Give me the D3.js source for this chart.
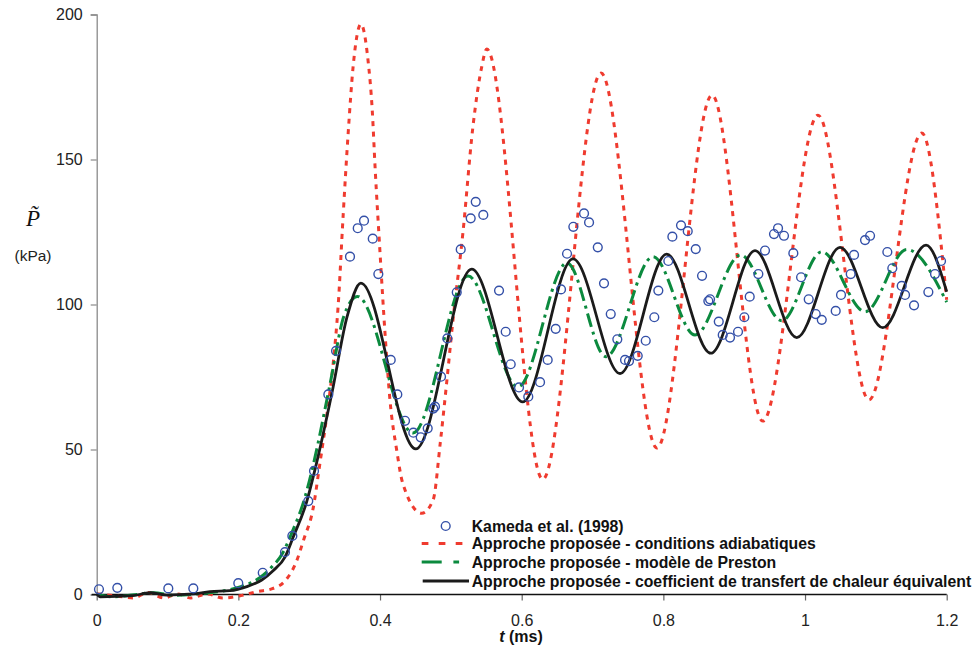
<!DOCTYPE html>
<html>
<head>
<meta charset="utf-8">
<script src="https://cdn.jsdelivr.net/npm/d3@7"></script>
<style>
  html, body { margin: 0; padding: 0; background: #fff; }
  svg { display: block; }
</style>
</head>
<body>
<svg id="chart" width="976" height="647"></svg>
<script>
// ---------- data (t in ms, P in kPa) ----------
const xTicks = [0, 0.2, 0.4, 0.6, 0.8, 1, 1.2];
const yTicks = [0, 50, 100, 150, 200];

const legendLabels = [
  "Kameda et al. (1998)",
  "Approche proposée - conditions adiabatiques",
  "Approche proposée - modèle de Preston",
  "Approche proposée - coefficient de transfert de chaleur équivalent"
];

const kamedaT = [0.0032,0.0291,0.1011,0.1364,0.1999,0.2344,0.2658,0.2762,0.2987,0.3068,
  0.3270,0.3379,0.3576,0.3685,0.3774,0.3897,0.3976,0.4151,0.4244,0.4353,
  0.4470,0.4574,0.4673,0.4752,0.4776,0.4861,0.4950,0.5083,0.5139,0.5280,
  0.5351,0.5458,0.5680,0.5774,0.5845,0.5962,0.6093,0.6259,0.6367,0.6480,
  0.6555,0.6640,0.6729,0.6880,0.6951,0.7074,0.7162,0.7257,0.7350,0.7459,
  0.7515,0.7638,0.7751,0.7872,0.7929,0.8070,0.8127,0.8249,0.8344,0.8457,
  0.8546,0.8635,0.8659,0.8782,0.8838,0.8941,0.9054,0.9143,0.9219,0.9341,
  0.9435,0.9562,0.9619,0.9703,0.9835,0.9944,1.0052,1.0151,1.0236,1.0433,
  1.0508,1.0645,1.0692,1.0847,1.0918,1.1162,1.1232,1.1365,1.1412,1.1539,
  1.1741,1.1835,1.1920];
const kamedaP = [1.8,2.3,2.1,2.1,3.9,7.5,14.6,20.2,32.2,42.6,
  69.0,84.0,116.5,126.3,128.9,122.7,110.5,80.9,69.0,59.9,
  55.8,54.2,57.3,64.1,64.8,75.1,88.3,104.2,119.0,129.7,
  135.4,130.9,104.8,90.6,79.4,71.4,68.2,73.2,80.9,91.6,
  105.2,117.5,126.8,131.4,128.3,119.7,107.3,96.7,88.0,80.9,
  80.5,82.3,87.5,95.6,104.8,115.0,123.4,127.3,125.3,119.1,
  109.9,101.2,101.8,94.1,89.5,88.6,90.6,95.6,102.7,110.5,
  118.6,124.3,126.3,123.7,117.7,109.4,101.8,96.7,94.7,97.8,
  103.3,110.5,117.1,122.2,123.7,118.1,112.5,106.4,103.3,99.7,
  104.3,110.5,115.0];

const adiabT = [0,0.030,0.052,0.072,0.095,0.114,0.133,0.156,0.178,0.205,
  0.227,0.248,0.267,0.281,0.293,0.305,0.315,0.325,0.334,0.341,
  0.348,0.355,0.362,0.373,0.383,0.389,0.393,0.400,0.407,0.414,
  0.4235,0.432,0.459,0.475,0.485,0.494,0.503,0.517,0.531,0.5436,
  0.5506,0.6297,0.712,0.791,0.8687,0.9403,1.0183,1.0903,1.1648,1.2];
const adiabP = [0.3,-0.6,-1.2,0.7,-1.2,0.2,-1.2,0.2,-1.2,-0.3,
  1.0,2.0,5.0,10.8,19.5,29,45,62,80,100,
  131,159,182,196.7,184.3,167,147.4,117.8,90.2,67.1,
  49.8,38.4,28,32.6,52.2,72.9,94.7,124.7,161,182,
  188.1,39.7,179.8,50.5,172.2,59.8,165.3,67.1,159.1,101.6];

const prestonT = [0,0.02,0.05,0.08,0.11,0.15,0.185,0.21,0.23,0.246,
  0.263,0.275,0.294,0.306,0.329,0.349,0.368,0.4466,0.5243,0.5948,
  0.6640,0.719,0.7854,0.8447,0.9092,0.9671,1.0236,1.0847,1.1436,1.2];
const prestonP = [0.2,-0.8,-0.2,0.6,-0.3,0.4,1.5,3.2,5.8,9.2,
  14.5,21,33.5,45,72,96,102.8,55.7,109.8,71.6,
  114.3,82,116.5,89.5,117.1,94.4,118.2,97.5,119,100.8];

const equivT = [0,0.005,0.051,0.075,0.099,0.136,0.160,0.188,0.212,0.233,
  0.249,0.266,0.2776,0.2965,0.308,0.332,0.3534,0.373,0.4504,0.5294,
  0.6014,0.6725,0.7388,0.8047,0.8669,0.9294,0.9883,1.0494,1.1097,1.1708,1.2];
const equivP = [0.3,-0.8,-0.4,0.6,-0.2,0.2,1.0,1.3,2.7,5.0,
  8.2,13,19.9,32,42.9,69.4,95.7,107.4,50.2,112.2,
  66.4,115.7,76.2,117.4,83.2,118.6,88.6,119.7,92,120.5,104.4];

// ---------- chart ----------
const svg = d3.select("#chart");
const x = d3.scaleLinear().domain([0, 1.2]).range([96.7, 946.7]);
const y = d3.scaleLinear().domain([0, 200]).range([594.5, 14.5]);

const FONT = "'Liberation Sans', Arial, Helvetica, sans-serif";
const SERIF = "'Liberation Serif', 'Times New Roman', serif";
const cRed = "#ef3b2f", cGreen = "#0b8a3e", cBlack = "#1b1b1b", cBlue = "#3450a8";

// y axis (gray)
const yAxis = d3.axisLeft(y).tickValues(yTicks).tickSize(6).tickPadding(8)
  .tickFormat(d => String(d));
const gy = svg.append("g").attr("transform", `translate(${x(0)},0)`).call(yAxis);
gy.select(".domain").attr("stroke", "#8a8a8a").attr("stroke-width", 1.3);
gy.selectAll(".tick line").attr("stroke", "#8a8a8a").attr("stroke-width", 1.2);
gy.selectAll(".tick text").attr("font-family", FONT).attr("font-size", 16).attr("fill", "#222");

// x axis (black line)
const xAxis = d3.axisBottom(x).tickValues(xTicks).tickSize(6).tickPadding(14)
  .tickSizeOuter(0).tickFormat(d => String(d));
const gx = svg.append("g").attr("transform", `translate(0,${y(0)})`).call(xAxis);
gx.select(".domain").remove();
gx.append("line").attr("x1", x(0) - 5).attr("x2", x(1.2)).attr("y1", 0).attr("y2", 0)
  .attr("stroke", "#111").attr("stroke-width", 1.3);
gx.selectAll(".tick line").attr("stroke", "#666").attr("stroke-width", 1.2);
gx.selectAll(".tick text").attr("font-family", FONT).attr("font-size", 16).attr("fill", "#222");

// lines
const line = d3.line().x(d => x(d[0])).y(d => y(d[1])).curve(d3.curveMonotoneX);
const zip = (a, b) => a.map((v, i) => [v, b[i]]);

svg.append("path").datum(zip(adiabT, adiabP)).attr("d", line)
  .attr("fill", "none").attr("stroke", cRed).attr("stroke-width", 3)
  .attr("stroke-dasharray", "5,5.5");
svg.append("path").datum(zip(prestonT, prestonP)).attr("d", line)
  .attr("fill", "none").attr("stroke", cGreen).attr("stroke-width", 3)
  .attr("stroke-dasharray", "14,5,3,5");
svg.append("path").datum(zip(equivT, equivP)).attr("d", line)
  .attr("fill", "none").attr("stroke", cBlack).attr("stroke-width", 2.8);

// Kameda points
svg.append("g").selectAll("circle").data(zip(kamedaT, kamedaP)).join("circle")
  .attr("cx", d => x(d[0])).attr("cy", d => y(d[1])).attr("r", 4.4)
  .attr("fill", "none").attr("stroke", cBlue).attr("stroke-width", 1.4);

// axis titles: P with combining tilde (single text)
svg.append("text").attr("x", 33).attr("y", 226).attr("text-anchor", "middle")
  .attr("font-family", SERIF).attr("font-style", "italic").attr("font-size", 23)
  .attr("fill", "#111").text("P\u0303");

svg.append("text").attr("x", 33).attr("y", 261).attr("text-anchor", "middle")
  .attr("font-family", FONT).attr("font-size", 15.5).attr("fill", "#222").text("(kPa)");

const xt = svg.append("text").attr("x", 521).attr("y", 642).attr("text-anchor", "middle")
  .attr("font-family", FONT).attr("font-size", 16).attr("font-weight", "bold").attr("fill", "#111");
xt.append("tspan").attr("font-style", "italic").text("t");
xt.append("tspan").text("\u00a0(ms)");

// legend
const lg = svg.append("g");
const rowY = [526, 543.5, 562, 581];
const txtX = 471.7;
legendLabels.forEach((lab, i) => {
  lg.append("text").attr("x", txtX).attr("y", rowY[i] + 5.6)
    .attr("font-family", FONT).attr("font-size", 15.8).attr("font-weight", "bold")
    .attr("fill", "#111").text(lab);
});
lg.append("circle").attr("cx", 445.7).attr("cy", rowY[0]).attr("r", 4.4)
  .attr("fill", "none").attr("stroke", cBlue).attr("stroke-width", 1.4);
lg.append("line").attr("x1", 421.7).attr("x2", 462.5).attr("y1", rowY[1]).attr("y2", rowY[1])
  .attr("stroke", cRed).attr("stroke-width", 3).attr("stroke-dasharray", "6.7,10.3");
lg.append("line").attr("x1", 421.7).attr("x2", 461).attr("y1", rowY[2]).attr("y2", rowY[2])
  .attr("stroke", cGreen).attr("stroke-width", 3).attr("stroke-dasharray", "20,11.7,5.7,20");
lg.append("line").attr("x1", 422.7).attr("x2", 469).attr("y1", rowY[3]).attr("y2", rowY[3])
  .attr("stroke", cBlack).attr("stroke-width", 2.8);
</script>
</body>
</html>
